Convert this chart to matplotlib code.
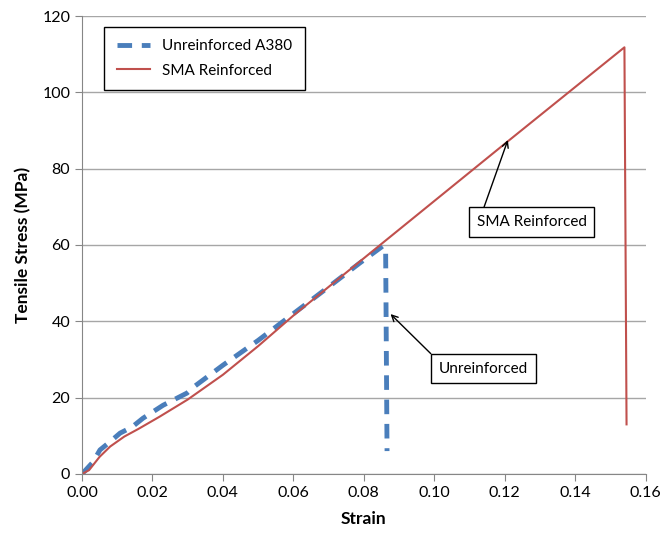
import numpy as np
from matplotlib import pyplot as plt

plt.rcParams['font.family'] = ['Lato', 'DejaVu Sans']

# unreinforced A380 (blue dashed)
strain_a380 = [0.0, 0.0031, 0.0051, 0.0079, 0.0108, 0.0142, 0.0173, 0.023, 0.0298,
               0.032, 0.04, 0.05, 0.06, 0.07, 0.0789, 0.0855, 0.0862, 0.0866]
stress_a380 = [0.0, 3.1, 6.3, 8.4, 10.7, 12.3, 14.6, 18.0, 21.2,
               23.0, 28.5, 35.0, 42.0, 49.0, 55.3, 59.8, 59.0, 6.0]

# SMA reinforced (red)
strain_sma = [0.0, 0.002, 0.005, 0.008, 0.012, 0.016, 0.022, 0.03, 0.04, 0.05,
              0.06, 0.0857, 0.12, 0.154, 0.1546]
stress_sma = [0.0, 1.0, 4.5, 7.2, 9.8, 11.8, 15.0, 19.5, 26.0, 33.5,
              41.5, 60.8, 86.5, 111.8, 13.0]

xticks = [0.0, 0.02, 0.04, 0.06, 0.08, 0.10, 0.12, 0.14, 0.16]
yticks = [0, 20, 40, 60, 80, 100, 120]

fig = plt.figure(figsize=(6.63, 5.34), dpi=100)
ax = fig.add_axes([0.1237, 0.1124, 0.850, 0.8576])

ax.plot(strain_a380, stress_a380, color='#4A7EBB', lw=3.5, ls=(0, (3, 2)),
        label='Unreinforced A380', solid_capstyle='butt', dash_capstyle='butt')
ax.plot(strain_sma, stress_sma, color='#C0504D', lw=1.5, label='SMA Reinforced')

ax.set_xlim(0, 0.16)
ax.set_ylim(0, 120)
ax.set_xticks(xticks)
ax.set_xticklabels(['%.2f' % v for v in xticks])
ax.set_yticks(yticks)
ax.grid(axis='y', color='#A6A6A6', lw=1)
ax.set_axisbelow(True)
for s in ['top', 'right']:
    ax.spines[s].set_visible(False)
for s in ['left', 'bottom']:
    ax.spines[s].set_color('#868686')
ax.tick_params(colors='#868686', labelcolor='black', labelsize=11.5, length=5, direction='out')

ax.set_xlabel('Strain', fontsize=12.5, fontweight='bold', labelpad=8)
ax.set_ylabel('Tensile Stress (MPa)', fontsize=12.5, fontweight='bold', labelpad=8)

leg = ax.legend(loc='upper left', bbox_to_anchor=(0.026, 0.993), fontsize=11,
                fancybox=False, edgecolor='black', framealpha=1, handlelength=2.2,
                borderpad=0.8, labelspacing=0.7)
leg.get_frame().set_linewidth(1)

box = dict(boxstyle='square,pad=0.5', fc='white', ec='black', lw=1)
ax.annotate('SMA Reinforced', xy=(0.1209, 87.5), xytext=(0.1277, 66.0),
            fontsize=11, ha='center', va='center', bbox=box,
            arrowprops=dict(arrowstyle='->', color='black', lw=1, shrinkA=0, shrinkB=0,
                            relpos=(0.04, 1.0)))
ax.annotate('Unreinforced', xy=(0.0876, 41.9), xytext=(0.1140, 27.6),
            fontsize=11, ha='center', va='center', bbox=box,
            arrowprops=dict(arrowstyle='->', color='black', lw=1, shrinkA=0, shrinkB=0,
                            relpos=(0.0, 1.0)))

fig.savefig('out.png', dpi=100)
